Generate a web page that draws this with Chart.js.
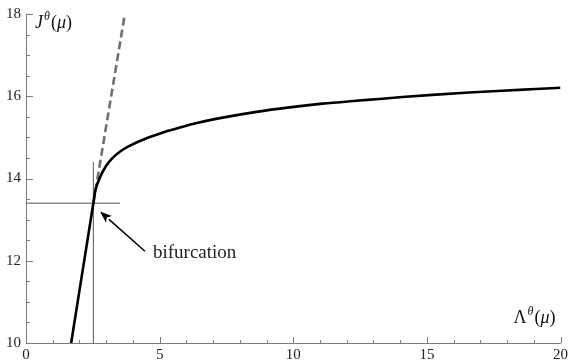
<!DOCTYPE html>
<html>
<head>
<meta charset="utf-8">
<script src="https://cdn.jsdelivr.net/npm/chart.js@4/dist/chart.umd.min.js"></script>
<style>
html, body { margin: 0; padding: 0; background: #fff; }
#wrap { width: 571px; height: 360px; position: relative; }
</style>
</head>
<body>
<div id="wrap"><canvas id="plot"></canvas></div>
<script>
// --- datos ---
const solidX = [1.69, 2.52, 2.60, 2.77, 3.00, 3.27, 3.55, 3.89, 4.51, 5.13, 5.76, 6.47, 7.36, 8.62, 9.86, 11.09, 12.35, 13.22, 14.08, 15.34, 16.58, 17.81, 19.07, 20.0];
const solidY = [10.0, 13.40, 13.72, 14.03, 14.31, 14.52, 14.67, 14.80, 14.98, 15.12, 15.24, 15.36, 15.48, 15.62, 15.73, 15.82, 15.89, 15.935, 15.98, 16.04, 16.09, 16.135, 16.175, 16.205];
const dashX = [2.52, 3.70];
const dashY = [13.40, 18.0];
const vLineX = [2.52, 2.52];
const vLineY = [10.0, 14.40];
const hLineX = [0.0, 3.52];
const hLineY = [13.40, 13.40];
const xTickLabels = [0, 5, 10, 15, 20];
const yTickLabels = [10, 12, 14, 16, 18];
const arrowTip = [2.77, 13.2];
const arrowTail = [4.45, 12.23];
const noteText = 'bifurcation';
const notePos = [4.75, 12.18];

const toPts = (xs, ys) => xs.map((x, i) => ({ x: x, y: ys[i] }));

const axisColor = '#7a7a7a';
const serif = "'Liberation Serif', serif";

// marcas de eje hacia adentro, flecha y titulos
const decorPlugin = {
    id: 'decor',
    afterDraw(chart) {
        const ctx = chart.ctx;
        const xs = chart.scales.x, ys = chart.scales.y;
        const area = chart.chartArea;
        ctx.save();
        ctx.strokeStyle = axisColor;
        ctx.lineWidth = 1;
        ctx.beginPath();
        xs.ticks.forEach(t => {
            const px = Math.round(xs.getPixelForValue(t.value)) + 0.5;
            const len = xTickLabels.includes(t.value) ? 6 : 3;
            ctx.moveTo(px, area.bottom);
            ctx.lineTo(px, area.bottom - len);
        });
        ys.ticks.forEach(t => {
            const py = Math.round(ys.getPixelForValue(t.value)) + 0.5;
            const len = yTickLabels.includes(t.value) ? 7 : 4;
            ctx.moveTo(area.left, py);
            ctx.lineTo(area.left + len, py);
        });
        ctx.stroke();

        // flecha
        const tx = xs.getPixelForValue(arrowTip[0]), ty = ys.getPixelForValue(arrowTip[1]);
        const sx = xs.getPixelForValue(arrowTail[0]), sy = ys.getPixelForValue(arrowTail[1]);
        const ang = Math.atan2(ty - sy, tx - sx);
        const headLen = 12, headW = 4.5;
        const bx = tx - headLen * Math.cos(ang), by = ty - headLen * Math.sin(ang);
        ctx.strokeStyle = '#000';
        ctx.lineWidth = 1.5;
        ctx.beginPath();
        ctx.moveTo(sx, sy);
        ctx.lineTo(bx, by);
        ctx.stroke();
        ctx.fillStyle = '#000';
        ctx.beginPath();
        ctx.moveTo(tx, ty);
        ctx.lineTo(bx + headW * Math.sin(ang), by - headW * Math.cos(ang));
        ctx.lineTo(tx - (headLen - 3) * Math.cos(ang), ty - (headLen - 3) * Math.sin(ang));
        ctx.lineTo(bx - headW * Math.sin(ang), by + headW * Math.cos(ang));
        ctx.closePath();
        ctx.fill();

        // texto de la anotacion
        ctx.fillStyle = '#222';
        ctx.font = '19px ' + serif;
        ctx.textBaseline = 'middle';
        ctx.textAlign = 'left';
        ctx.fillText(noteText, xs.getPixelForValue(notePos[0]), ys.getPixelForValue(notePos[1]));

        // titulos de ejes: J^θ(μ) y Λ^θ(μ)
        const drawLabel = (main, italicMain, x, y) => {
            ctx.textBaseline = 'alphabetic';
            ctx.font = (italicMain ? 'italic ' : '') + '18px ' + serif;
            ctx.fillText(main, x, y);
            x += ctx.measureText(main).width + 1;
            ctx.font = 'italic 12px ' + serif;
            ctx.fillText('θ', x, y - 8);
            x += ctx.measureText('θ').width + 1;
            ctx.font = '18px ' + serif;
            ctx.fillText('(', x, y);
            x += ctx.measureText('(').width;
            ctx.font = 'italic 18px ' + serif;
            ctx.fillText('μ', x, y);
            x += ctx.measureText('μ').width;
            ctx.font = '18px ' + serif;
            ctx.fillText(')', x, y);
        };
        ctx.fillStyle = '#111';
        drawLabel('J', true, area.left + 9, area.top + 14);
        drawLabel('Λ', false, area.right - 47, area.bottom - 20);
        ctx.restore();
    }
};

const ctx = document.getElementById('plot').getContext('2d');
new Chart(ctx, {
    type: 'scatter',
    data: {
        datasets: [{
            data: toPts(solidX, solidY),
            showLine: true,
            borderColor: '#000',
            borderWidth: 2.6,
            pointRadius: 0,
            cubicInterpolationMode: 'monotone'
        }, {
            data: toPts(dashX, dashY),
            showLine: true,
            borderColor: '#6e6e6e',
            borderWidth: 2.6,
            borderDash: [8, 4],
            pointRadius: 0
        }, {
            data: toPts(vLineX, vLineY),
            showLine: true,
            borderColor: '#555',
            borderWidth: 1,
            pointRadius: 0
        }, {
            data: toPts(hLineX, hLineY),
            showLine: true,
            borderColor: '#555',
            borderWidth: 1,
            pointRadius: 0
        }]
    },
    options: {
        responsive: true,
        maintainAspectRatio: false,
        animation: false,
        layout: { padding: { top: 11, right: 9, left: 0, bottom: 0 } },
        plugins: { legend: { display: false }, tooltip: { enabled: false } },
        scales: {
            x: {
                type: 'linear',
                min: 0, max: 20,
                afterFit: s => { s.height = 17; },
                border: { display: true, color: axisColor, width: 1 },
                grid: { drawOnChartArea: false, drawTicks: false },
                ticks: {
                    stepSize: 1,
                    autoSkip: false,
                    maxRotation: 0,
                    padding: 3,
                    color: '#222',
                    font: { family: serif, size: 15 },
                    callback: v => xTickLabels.includes(v) ? String(v) : ''
                }
            },
            y: {
                type: 'linear',
                min: 10, max: 18,
                afterFit: s => { s.width = 26; },
                border: { display: true, color: axisColor, width: 1 },
                grid: { drawOnChartArea: false, drawTicks: false },
                ticks: {
                    stepSize: 0.5,
                    autoSkip: false,
                    padding: 5,
                    color: '#222',
                    font: { family: serif, size: 15 },
                    callback: v => yTickLabels.includes(v) ? String(v) : ''
                }
            }
        }
    },
    plugins: [decorPlugin]
});
</script>
</body>
</html>
